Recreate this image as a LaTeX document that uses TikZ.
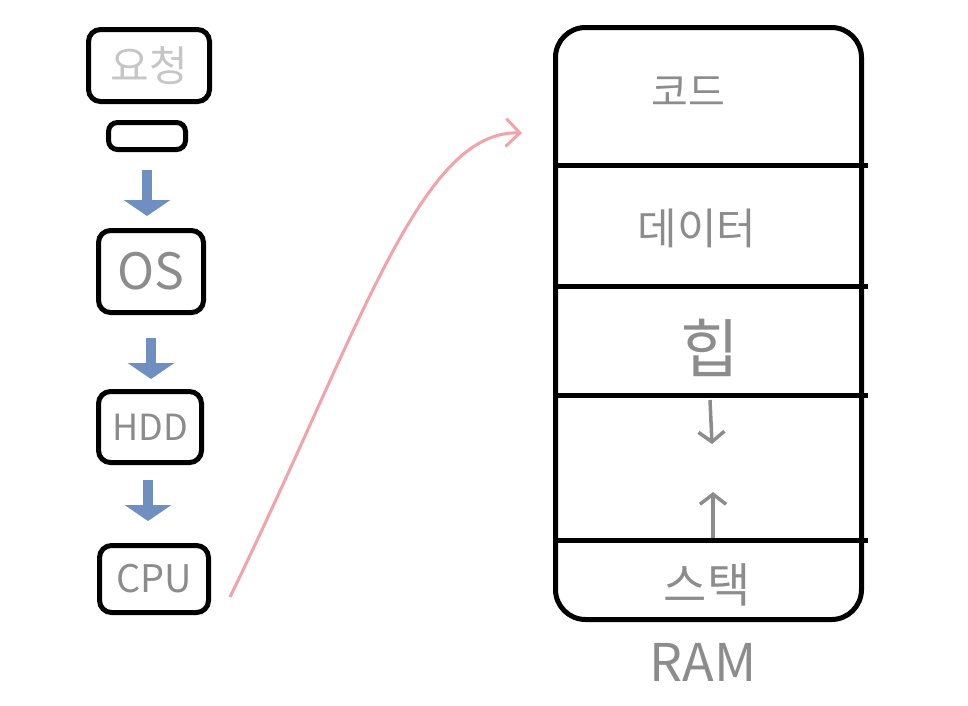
\documentclass[tikz,border=0pt]{standalone}
\usepackage{fontspec}
\usepackage{tikz}
\usepackage{xcolor}
\usetikzlibrary{arrows.meta}

\setmainfont{Noto Sans CJK KR}

\definecolor{pencil}{HTML}{8C8C8C}
\definecolor{faint}{HTML}{C6C6C6}
\definecolor{flowblue}{HTML}{6F8FC0}
\definecolor{rose}{HTML}{F4A2AA}

\newcommand{\fs}[1]{\fontsize{#1}{#1}\selectfont}

\begin{document}
\begin{tikzpicture}[x=1pt,y=-1pt,
	box/.style = {draw, line width=5pt, rounded corners=12pt, inner sep=0pt, text=pencil},
	flow/.style = {draw=flowblue, line width=10pt, -{Triangle[width=46pt,length=16pt]}},
	growth/.style = {draw=pencil, line width=3.5pt, -{Straight Barb[width=26pt,length=10pt]}},
	part/.style = {text=pencil, inner sep=0pt},
	divider/.style = {line width=5pt}]
			%\draw[help lines] (0,0) grid (968,705);
			\useasboundingbox (0,0) rectangle (968,705);
			
			% left column
			\node[box, text=faint, minimum width=121pt, minimum height=72pt, font=\fs{42}] (req) at (149,65.5) {요청};
			\node[box, minimum width=77pt, minimum height=27pt, rounded corners=9pt] (slot) at (147,136) {};
			\node[box, minimum width=105pt, minimum height=82pt, font=\fs{50}] (os) at (151,271.5) {OS};
			\node[box, minimum width=103pt, minimum height=71pt, font=\fs{36}] (hdd) at (150,427) {HDD};
			\node[box, minimum width=109pt, minimum height=67pt, font=\fs{38}] (cpu) at (154,579) {CPU};
			
			\draw[flow, shorten <=18pt, shorten >=12pt] (slot.south) -- (slot.south |- os.north);
			\draw[flow, shorten <=23pt, shorten >=10pt] (os.south) -- (os.south |- hdd.north);
			\draw[flow, shorten <=15pt, shorten >=22pt] ([xshift=-2pt]hdd.south) -- ([xshift=-2pt]hdd.south |- cpu.north);
			
			% RAM
			\node[draw, line width=5pt, rounded corners=30pt, minimum width=306pt, minimum height=592pt] (ram) at (708.5,323.5) {};
			\foreach \y in {165,286,395,540}
				\draw[divider] (ram.west |- 0,\y) -- ([xshift=4pt]ram.east |- 0,\y);
			
			\node[part, font=\fs{40}] (code) at (688,92) {코드};
			\node[part, font=\fs{43}] (data) at (697,228) {데이터};
			\node[part, font=\fs{64}] (heap) at (710,348) {힙};
			\node[part, font=\fs{47}] (stack) at (707,585) {스택};
			\node[part, font=\fs{52}] (ramlabel) at (703,662) {RAM};
			
			\coordinate (hp1) at (710,400);
			\coordinate (hp2) at (712,444);
			\coordinate (sp1) at (713,538);
			\coordinate (sp2) at (713,492);
			\draw[growth] (hp1) -- (hp2);
			\draw[growth] (sp1) -- (sp2);
			
			% load into memory
			\coordinate (tail) at (230,597);
			\coordinate (head) at (522,133);
			\draw[rose, line width=3pt, -{Straight Barb[width=28pt,length=14pt]}] (tail) .. controls (360,330) and (420,130) .. (head);
		\end{tikzpicture}
\end{document}
